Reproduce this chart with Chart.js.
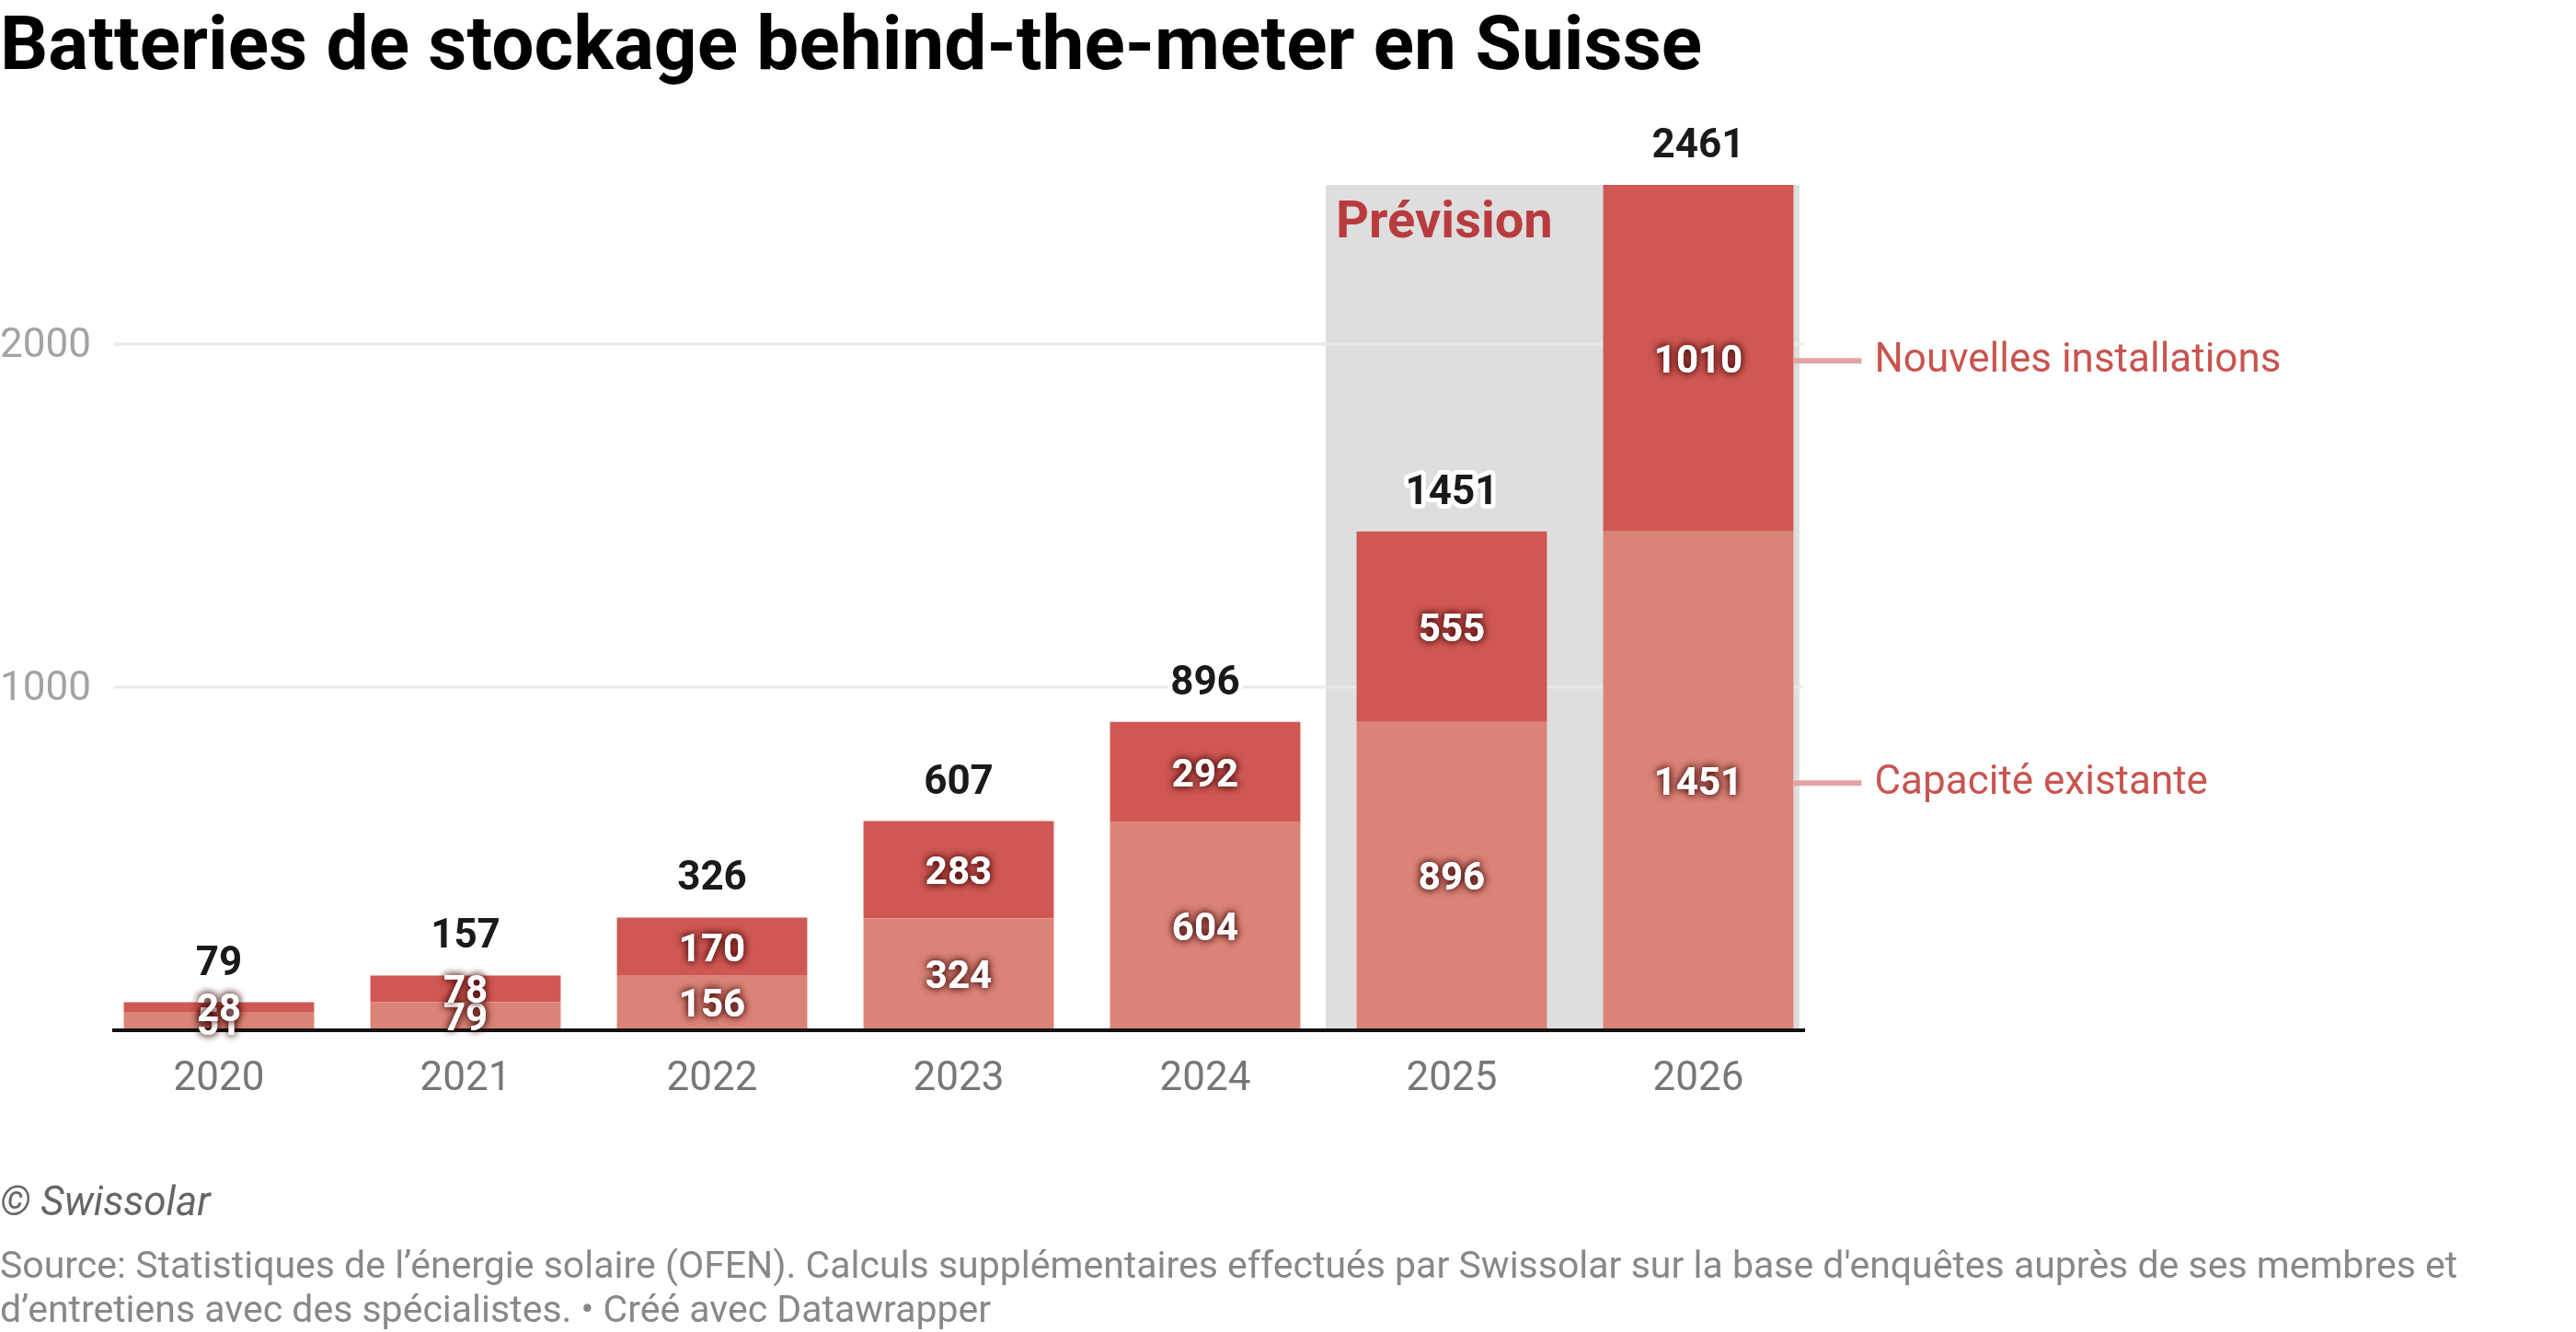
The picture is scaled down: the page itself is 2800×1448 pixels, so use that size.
<!DOCTYPE html>
<html lang="fr">
<head>
    <meta charset="UTF-8">
    <title>Batteries de stockage behind-the-meter en Suisse</title>
    <script src="https://cdn.jsdelivr.net/npm/chart.js"></script>
    <style>
        body {
            margin: 0;
            width: 2800px;
            height: 1448px;
            position: relative;
            overflow: hidden;
            background: #fff;
            font-family: Roboto, sans-serif;
        }
        #chart-box {
            position: absolute;
            left: 0;
            top: 0;
        }
        h1 {
            position: absolute;
            left: 0;
            top: 6px;
            margin: 0;
            font-size: 82px;
            line-height: 82px;
            font-weight: 700;
            color: #000;
            white-space: nowrap;
        }
        .credit {
            position: absolute;
            left: 0;
            top: 1284px;
            font-size: 44px;
            line-height: 44px;
            font-style: italic;
            color: #666;
        }
        .source {
            position: absolute;
            left: 0;
            top: 1351px;
            font-size: 41px;
            line-height: 48px;
            color: #888;
            white-space: nowrap;
        }
    </style>
</head>
<body>
    <h1>Batteries de stockage behind-the-meter en Suisse</h1>
    <canvas id="chart-box" width="2800" height="1448"></canvas>
    <div class="credit">© Swissolar</div>
    <div class="source">Source: Statistiques de l’énergie solaire (OFEN). Calculs supplémentaires effectués par Swissolar sur la base d'enquêtes auprès de ses membres et<br>d’entretiens avec des spécialistes. • Créé avec Datawrapper</div>

    <script>
        // données (MWh)
        const years = ['2020', '2021', '2022', '2023', '2024', '2025', '2026'];
        const existante = [51, 79, 156, 324, 604, 896, 1451];
        const nouvelles = [28, 78, 170, 283, 292, 555, 1010];
        const totals = [79, 157, 326, 607, 896, 1451, 2461];
        const yTicks = [0, 1000, 2000];
        const forecastFrom = '2025';
        const seriesNames = ['Capacité existante', 'Nouvelles installations'];

        // fond "Prévision", lignes de grille, étiquettes
        const decor = {
            id: 'decor',
            beforeDatasetsDraw(chart) {
                const { ctx, scales: { x, y } } = chart;
                const step = x.getPixelForValue(1) - x.getPixelForValue(0);
                const first = x.getPixelForValue(0);
                const last = x.getPixelForValue(years.length - 1);
                const fi = years.indexOf(forecastFrom);
                const top = y.getPixelForValue(Math.max(...totals));
                const left = x.getPixelForValue(fi - 0.5) - 3;
                const right = last + step * 0.41;

                ctx.save();
                ctx.fillStyle = '#dedede';
                ctx.fillRect(left, top, right - left, y.getPixelForValue(0) - top);

                ctx.strokeStyle = '#e8e8e8';
                ctx.lineWidth = 3;
                yTicks.filter(v => v > 0).forEach(v => {
                    const py = Math.round(y.getPixelForValue(v)) + 1;
                    ctx.beginPath();
                    ctx.moveTo(first - step * 0.425, py);
                    ctx.lineTo(last + step * 0.425, py);
                    ctx.stroke();
                });

                ctx.fillStyle = '#b83c3e';
                ctx.font = 'bold 56px Roboto';
                ctx.textAlign = 'left';
                ctx.textBaseline = 'alphabetic';
                ctx.fillText('Prévision', left + 11, top + 57);
                ctx.restore();
            },
            afterDatasetsDraw(chart) {
                const { ctx, scales: { x, y } } = chart;
                const step = x.getPixelForValue(1) - x.getPixelForValue(0);
                const first = x.getPixelForValue(0);
                const last = x.getPixelForValue(years.length - 1);
                const zero = y.getPixelForValue(0);

                ctx.save();
                // ligne de base
                ctx.strokeStyle = '#111';
                ctx.lineWidth = 4;
                ctx.beginPath();
                ctx.moveTo(first - step * 0.433, zero + 1);
                ctx.lineTo(last + step * 0.433, zero + 1);
                ctx.stroke();

                // valeurs dans les barres
                ctx.textAlign = 'center';
                ctx.textBaseline = 'middle';
                ctx.font = 'bold 42px Roboto';
                [0, 1].forEach(d => {
                    const meta = chart.getDatasetMeta(d);
                    const values = chart.data.datasets[d].data;
                    meta.data.forEach((el, i) => {
                        const cy = (el.y + el.base) / 2 + 5;
                        ctx.shadowColor = 'rgba(60, 5, 5, 0.8)';
                        ctx.shadowBlur = 9;
                        ctx.fillStyle = '#fff';
                        ctx.fillText(values[i], el.x, cy);
                        ctx.fillText(values[i], el.x, cy);
                    });
                });
                ctx.shadowColor = 'transparent';
                ctx.shadowBlur = 0;

                // totaux
                ctx.font = 'bold 44px Roboto';
                ctx.textBaseline = 'alphabetic';
                ctx.lineJoin = 'round';
                const topMeta = chart.getDatasetMeta(1);
                topMeta.data.forEach((el, i) => {
                    ctx.strokeStyle = '#fff';
                    ctx.lineWidth = 10;
                    ctx.strokeText(totals[i], el.x, el.y - 30);
                    ctx.fillStyle = '#1a1a1a';
                    ctx.fillText(totals[i], el.x, el.y - 30);
                });

                // étiquettes des séries à droite
                ctx.font = '44px Roboto';
                ctx.textAlign = 'left';
                ctx.textBaseline = 'middle';
                [1, 0].forEach(d => {
                    const el = chart.getDatasetMeta(d).data[years.length - 1];
                    const edge = el.x + el.width / 2;
                    const cy = (el.y + el.base) / 2 + 3;
                    ctx.strokeStyle = '#e4a4a3';
                    ctx.lineWidth = 6;
                    ctx.beginPath();
                    ctx.moveTo(edge, cy);
                    ctx.lineTo(edge + 74, cy);
                    ctx.stroke();
                    ctx.fillStyle = '#c8544f';
                    ctx.fillText(seriesNames[d], edge + 88, cy + 1);
                });
                ctx.restore();
            }
        };

        Chart.defaults.font.family = 'Roboto';

        new Chart(document.getElementById('chart-box'), {
            type: 'bar',
            data: {
                labels: years,
                datasets: [{
                    label: seriesNames[0],
                    data: existante,
                    backgroundColor: '#dc8377',
                    borderWidth: 0,
                    categoryPercentage: 1,
                    barPercentage: 0.772
                }, {
                    label: seriesNames[1],
                    data: nouvelles,
                    backgroundColor: '#d05853',
                    borderWidth: 0,
                    categoryPercentage: 1,
                    barPercentage: 0.772
                }]
            },
            options: {
                responsive: false,
                animation: false,
                layout: {
                    padding: { top: 201, right: 820, bottom: 229, left: 0 }
                },
                plugins: {
                    legend: { display: false },
                    tooltip: { enabled: false }
                },
                scales: {
                    x: {
                        stacked: true,
                        grid: { display: false, drawTicks: false },
                        border: { display: false },
                        ticks: {
                            color: '#777',
                            font: { size: 44 },
                            padding: 29
                        },
                        afterFit(scale) { scale.height = 100; }
                    },
                    y: {
                        stacked: true,
                        min: 0,
                        max: Math.max(...totals),
                        grid: { display: false, drawTicks: false },
                        border: { display: false },
                        afterBuildTicks(scale) {
                            scale.ticks = yTicks.map(v => ({ value: v }));
                        },
                        ticks: {
                            color: '#a3a3a3',
                            font: { size: 44 },
                            crossAlign: 'far',
                            labelOffset: 4,
                            callback: v => (v === 0 ? '' : v)
                        },
                        afterFit(scale) { scale.width = 104; }
                    }
                }
            },
            plugins: [decor]
        });
    </script>
</body>
</html>
